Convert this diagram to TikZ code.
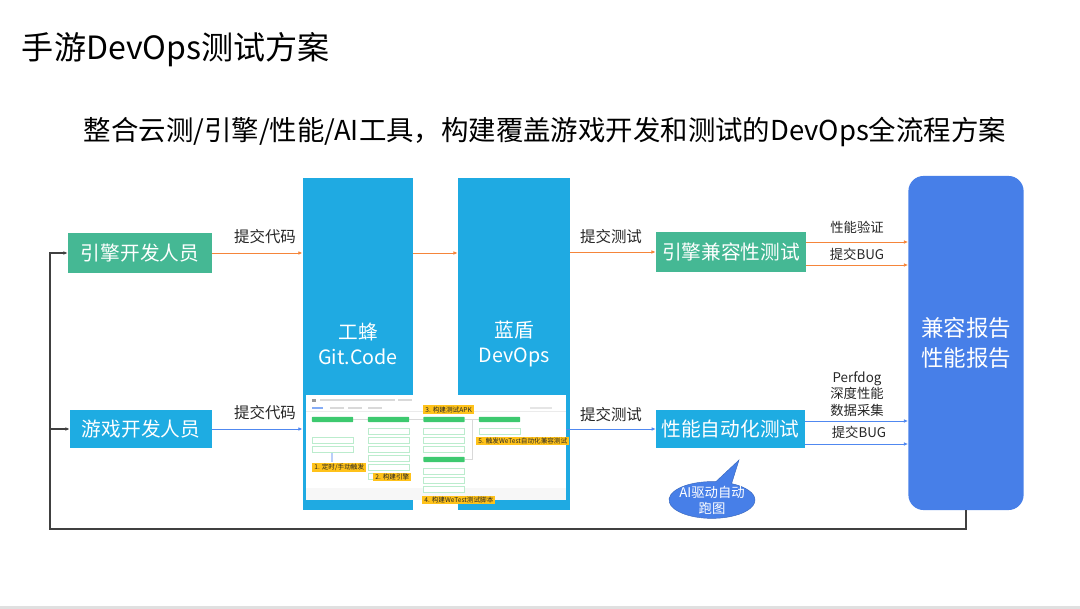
\documentclass[tikz,border=0pt]{standalone}
\usepackage{fontspec}
\setmainfont{Noto Sans CJK SC}
\usepackage{tikz}
\usetikzlibrary{positioning,calc,arrows.meta,shapes.callouts}
\usepackage{xcolor}
\definecolor{engGreen}{HTML}{45B894}
\definecolor{gameCyan}{HTML}{1EACE2}
\definecolor{colBlue}{HTML}{1FAAE2}
\definecolor{repBlue}{HTML}{477FE8}
\definecolor{arrOrange}{HTML}{F5853A}
\definecolor{arrBlue}{HTML}{5088F0}
\definecolor{stageGreen}{HTML}{3DC96F}
\definecolor{tagYellow}{HTML}{FFC21A}

\begin{document}
\begin{tikzpicture}[
    x=0.025cm,y=-0.025cm,
    rolebox/.style={rectangle,text=white,font=\fontsize{14}{16}\selectfont,
                    minimum height=0.98cm,inner sep=0pt},
    colbox/.style={rectangle,fill=colBlue,text=white,align=center,
                   font=\fontsize{14}{18}\selectfont,minimum width=2.76cm,
                   minimum height=8.3cm,inner sep=0pt},
    orangeline/.style={draw=arrOrange,line width=0.6pt,
                       -{Latex[length=3pt,width=2.6pt]}},
    blueline/.style={draw=arrBlue,line width=0.6pt,
                     -{Latex[length=3pt,width=2.6pt]}},
    fbline/.style={draw=black!75,line width=0.9pt},
    lbl/.style={font=\fontsize{11}{13}\selectfont,text=black!85},
    smalllbl/.style={font=\fontsize{9.5}{12}\selectfont,text=black!85,align=center},
    stagehead/.style={fill=stageGreen,minimum width=1.03cm,minimum height=0.13cm,
                      inner sep=0pt,rounded corners=0.5pt},
    stagerow/.style={draw=stageGreen!35,fill=white,minimum width=1.03cm,
                     minimum height=0.16cm,inner sep=0pt,line width=0.3pt},
    tag/.style={fill=tagYellow,text=black!85,font=\fontsize{4.7}{5}\selectfont,
                inner xsep=1.5pt,inner ysep=1pt,anchor=west}
]
  \useasboundingbox (0,0) rectangle (1080,609);
  \fill[black!12] (0,606) rectangle (1080,609);

  % Titles
  \node[anchor=west,font=\fontsize{22.8}{26}\selectfont] (title) at (17,50)
    {手游DevOps测试方案};
  \node[font=\fontsize{19.5}{22}\selectfont] (subtitle) at (545,132)
    {整合云测/引擎/性能/AI工具，构建覆盖游戏开发和测试的DevOps全流程方案};

  % Developers
  \node[rolebox,fill=engGreen,minimum width=3.6cm] (engdev) at (140,253) {引擎开发人员};
  \node[rolebox,fill=gameCyan,minimum width=3.55cm,minimum height=0.93cm]
    (gamedev) at (141,429) {游戏开发人员};

  % Tool columns
  \node[colbox] (gongfeng) at (358,344) {工蜂\\Git.Code};
  \node[colbox,minimum width=2.8cm] (landun) at (514,344) {蓝盾\\DevOps};

  % Test stages
  \node[rolebox,fill=engGreen,minimum width=3.75cm] (engtest) at (731,252) {引擎兼容性测试};
  \node[rolebox,fill=gameCyan,minimum width=3.72cm,minimum height=0.95cm]
    (perftest) at (730.5,429) {性能自动化测试};

  % Report
  \node[rectangle,rounded corners=0.38cm,fill=repBlue,text=white,align=center,
        font=\fontsize{16}{21}\selectfont,minimum width=2.88cm,minimum height=8.35cm]
    (report) at (966,343) {兼容报告\\性能报告};

  % Pipeline screenshot on top of the columns
  \begin{scope}
    \fill[white] (306,395) rectangle (566,500);
    \fill[black!3] (306,488) rectangle (566,500);
    \fill[black!40] (312,399) rectangle (316,402);
    \fill[black!15] (320,399.5) rectangle (395,401.5);
    \fill[black!15] (398,399.5) rectangle (412,401.5);
    \fill[arrBlue!70] (312,407) rectangle (323,409);
    \foreach \tx in {330,348,368}
      \fill[black!15] (\tx,407) rectangle (\tx+14,409);
    \fill[black!10] (530,407) rectangle (552,409);
    \draw[black!8,line width=0.3pt] (306,411) -- (566,411);
    \draw[black!15,line width=0.4pt] (353,419.5) -- (368,419.5);
    \draw[black!15,line width=0.4pt] (409,419.5) -- (423,419.5);
    \draw[black!15,line width=0.4pt] (465,419.5) -- (479,419.5);
    \draw[black!15,line width=0.4pt] (465,459.5) -- (472,459.5) -- (472,419.5);
    \draw[arrBlue!40,line width=0.8pt] (332,452) -- (332,462);
    % stage 1
    \node[stagehead] (s1) at (332.5,419.5) {};
    \node[stagerow] (s1a) at (332.5,440.5) {};
    \node[stagerow] (s1b) at (332.5,449) {};
    % stage 2
    \node[stagehead] (s2) at (388.5,419.5) {};
    \foreach \ry in {431,440,449,458,467,476}
      \node[stagerow,minimum height=0.15cm] at (388.5,\ry) {};
    % stage 3
    \node[stagehead] (s3) at (444,419.5) {};
    \foreach \ry in {431,440,449}
      \node[stagerow,minimum height=0.15cm] at (444,\ry) {};
    \node[stagehead] (s3b) at (444,459.5) {};
    \foreach \ry in {471,480,489}
      \node[stagerow,minimum height=0.15cm] at (444,\ry) {};
    % stage 4
    \node[stagehead] (s4) at (499.5,419.5) {};
    \node[stagerow,minimum height=0.15cm] (s4a) at (499.5,431) {};
    % step tags
    \node[tag] (tag1) at (312,467.5) {1. 定时/手动触发};
    \node[tag] (tag2) at (373,477) {2. 构建引擎};
    \node[tag] (tag3) at (423,409.5) {3. 构建测试APK};
    \node[tag] (tag4) at (422,500) {4. 构建WeTest测试脚本};
    \node[tag] (tag5) at (476,441) {5. 触发WeTest自动化兼容测试};
  \end{scope}

  % Commits and test requests
  \draw[orangeline] (engdev.east) -- (engdev.east -| gongfeng.west);
  \node[lbl] (commit1) at (265,237) {提交代码};
  \draw[orangeline] (gongfeng.east |- engdev) -- (landun.west |- engdev);
  \draw[blueline] (gamedev.east) -- (gamedev.east -| gongfeng.west);
  \node[lbl] (commit2) at (265,413) {提交代码};
  \draw[orangeline] (landun.east |- engtest) -- (engtest.west);
  \node[lbl] (req1) at (611,237) {提交测试};
  \draw[blueline] (566,429) -- (perftest.west);
  \node[lbl] (req2) at (611,415) {提交测试};

  % Results into the report
  \draw[orangeline] (engtest.east |- 0,242) -- (report.west |- 0,242);
  \draw[orangeline] (engtest.east |- 0,265) -- (report.west |- 0,265);
  \node[smalllbl] (verify) at (857,227) {性能验证};
  \node[smalllbl] (bug1) at (857,254) {提交BUG};
  \draw[blueline] (perftest.east |- 0,421) -- (report.west |- 0,421);
  \draw[blueline] (perftest.east |- 0,444) -- (report.west |- 0,444);
  \node[smalllbl,font=\fontsize{9.5}{11.8}\selectfont] (perfdog) at (857,394)
    {Perfdog\\深度性能\\数据采集};
  \node[smalllbl] (bug2) at (859,432) {提交BUG};

  % Feedback loop to developers
  \coordinate (fbcorner) at (50,529);
  \draw[fbline,-{Latex[length=3pt,width=2.6pt]}] (report.south) |- (fbcorner) |- (engdev.west);
  \draw[fbline,-{Latex[length=3pt,width=2.6pt]}] (fbcorner |- gamedev) -- (gamedev.west);

  % Callout
  \node[ellipse callout,fill=repBlue,draw=repBlue!80!black,line width=0.3pt,
        text=white,align=center,font=\fontsize{9.5}{11.5}\selectfont,
        minimum width=2.15cm,minimum height=0.92cm,inner sep=-2pt,
        callout absolute pointer={(739,460)},callout pointer arc=22]
    (aicall) at (712,500) {AI驱动自动\\跑图};
\end{tikzpicture}
\end{document}
